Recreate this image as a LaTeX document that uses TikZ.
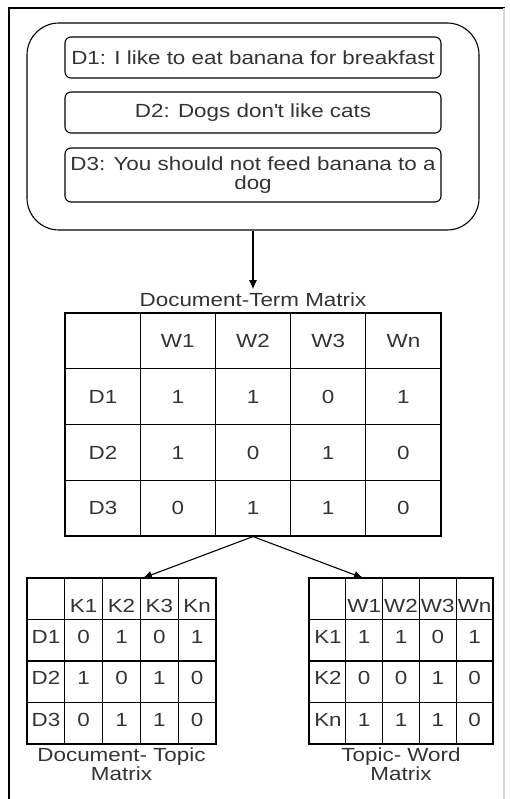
\documentclass[tikz,border=0pt]{standalone}
\usepackage{fontspec}
\setmainfont{Liberation Sans}[FakeStretch=1.18]
\usetikzlibrary{arrows.meta,positioning}
\definecolor{txtgray}{HTML}{333333}
\begin{document}
\begin{tikzpicture}[x=1pt,y=-1pt,> = {Latex[length=9pt,width=8pt]},line width=1.1pt,
		every node/.style={font=\fontsize{19}{19}\selectfont, text=txtgray},
		docbox/.style={draw, rounded corners=6pt, minimum width=376pt, inner sep=2pt, align=center}]
			\useasboundingbox (0,0) rectangle (510,799);
			\draw (9,799)--(9,8)--(505,8);
			\draw[gray!30] (504,8)--(504,799);
				%%%%%%%%
			\node[draw, rounded corners=32pt, minimum width=452pt, minimum height=207pt] (docs) at (253,126.5) {};
			\node[docbox, minimum height=41pt] (d1) at (253,57.5) {D1: I like to eat banana for breakfast};
			\node[docbox, minimum height=41pt] (d2) at (253,112.5) {D2: Dogs don\textquotesingle t like cats};
			\node[docbox, minimum height=54pt] (d3) at (253,175) {D3: You should not feed banana to a\\dog};
				%%%%%%%%
			\node (dtmcap) at (253,300) {Document-Term Matrix};
			\node[draw, minimum width=376pt, minimum height=223pt] (dtm) at (253,424.5) {};
			\foreach \i in {1,...,4}
				\draw ({65+75.2*\i},313)--({65+75.2*\i},536);
			\foreach \j in {1,2,3}
				\draw (65,{313+55.75*\j})--(441,{313+55.75*\j});
			\foreach \w [count=\c] in {W1,W2,W3,Wn}
				\node (dtmh\c) at ({65+75.2*(\c+0.5)},341) {\w};
			\foreach \d/\va/\vb/\vc/\vd [count=\r] in {D1/1/1/0/1,D2/1/0/1/0,D3/0/1/1/0}{
				\node (dtmr\r) at (103,{341+55.75*\r}) {\d};
				\foreach \v [count=\c] in {\va,\vb,\vc,\vd}
					\node (dtm\r\c) at ({65+75.2*(\c+0.5)},{341+55.75*\r}) {\v};}
				%%%%%%%%
			\node[draw, minimum width=189pt, minimum height=166pt] (dt) at (121.5,661) {};
			\foreach \i in {1,...,4}
				\draw ({27+37.8*\i},578)--({27+37.8*\i},744);
			\foreach \j in {1,2,3}
				\draw (27,{578+41.5*\j})--(216,{578+41.5*\j});
			\foreach \k [count=\c] in {K1,K2,K3,Kn}
				\node (dth\c) at ({27+37.8*(\c+0.5)},606) {\k};
			\foreach \d/\va/\vb/\vc/\vd [count=\r] in {D1/0/1/0/1,D2/1/0/1/0,D3/0/1/1/0}{
				\node (dtr\r) at (46,{595+41.5*\r}) {\d};
				\foreach \v [count=\c] in {\va,\vb,\vc,\vd}
					\node (dt\r\c) at ({27+37.8*(\c+0.5)},{595+41.5*\r}) {\v};}
			\node[align=center] (dtcap) at (121.5,764) {Document- Topic\\Matrix};
				%%%%%%%%
			\node[draw, minimum width=184pt, minimum height=166pt] (tw) at (401,661) {};
			\foreach \i in {1,...,4}
				\draw ({309+36.8*\i},578)--({309+36.8*\i},744);
			\foreach \j in {1,2,3}
				\draw (309,{578+41.5*\j})--(493,{578+41.5*\j});
			\foreach \w [count=\c] in {W1,W2,W3,Wn}
				\node (twh\c) at ({309+36.8*(\c+0.5)},606) {\w};
			\foreach \k/\va/\vb/\vc/\vd [count=\r] in {K1/1/1/0/1,K2/0/0/1/0,Kn/1/1/1/0}{
				\node (twr\r) at (328,{595+41.5*\r}) {\k};
				\foreach \v [count=\c] in {\va,\vb,\vc,\vd}
					\node (tw\r\c) at ({309+36.8*(\c+0.5)},{595+41.5*\r}) {\v};}
			\node[align=center] (twcap) at (401,764) {Topic- Word\\Matrix};
				%%%%%%%%
			\coordinate (dtin) at (143,578);
			\coordinate (twin) at (363,578);
			\draw[->] (docs)--(dtmcap);
			\draw[->] (dtm.south)--(dtin);
			\draw[->] (dtm.south)--(twin);
		\end{tikzpicture}
\end{document}
